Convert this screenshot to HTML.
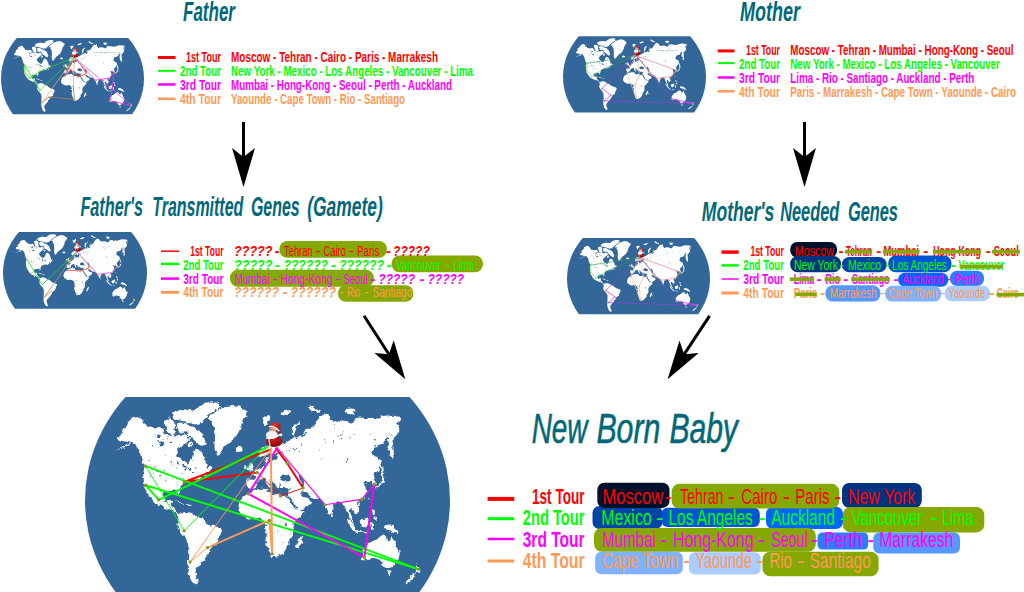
<!DOCTYPE html><html><head><meta charset="utf-8"><title>Genetic crossover of tours</title>
<style>html,body{margin:0;padding:0;background:#fff;overflow:hidden}svg{display:block}text{font-family:"Liberation Sans",sans-serif}</style></head><body>
<svg width="1024" height="592" viewBox="0 0 1024 592">
<defs><clipPath id="mapclip"><rect x="0" y="397.0" width="600" height="194.6"/></clipPath><clipPath id="bigclip"><rect x="0" y="397.0" width="600" height="220"/></clipPath><clipPath id="ell"><ellipse cx="267.5" cy="500.6" rx="182.5" ry="165.0"/></clipPath><radialGradient id="sg" cx="0.45" cy="0.3" r="0.75"><stop offset="0" stop-color="#cf1f1c"/><stop offset="0.6" stop-color="#a51212"/><stop offset="1" stop-color="#6e0808"/></radialGradient>
<radialGradient id="hg" cx="0.4" cy="0.3" r="0.8"><stop offset="0" stop-color="#e23a2c"/><stop offset="1" stop-color="#9c1010"/></radialGradient>
<g id="santa">
<ellipse cx="7" cy="-2" rx="6" ry="2.6" fill="#fff" fill-opacity="0.75"/>
<ellipse cx="2.1" cy="-5.6" rx="8.2" ry="5.5" fill="url(#sg)"/>
<path d="M-3.2,-8.5 L-2.2,-1.2" stroke="#f3f3f3" stroke-width="1.3" fill="none"/>
<ellipse cx="3.3" cy="-20.2" rx="5.3" ry="4.6" fill="url(#hg)"/>
<path d="M6.5,-19 Q9.5,-16 8.6,-12.5 L6,-14 Z" fill="#a81414"/>
<ellipse cx="0.8" cy="-17" rx="3.6" ry="2.3" fill="#efb58f"/>
<path d="M-2.6,-20.2 Q2,-21.5 6.8,-16.2" stroke="#fafafa" stroke-width="1.5" fill="none" stroke-linecap="round"/>
<ellipse cx="-0.3" cy="-12" rx="5.9" ry="3.9" fill="#f6f6f6"/>
<path d="M-5.5,-9 Q1,-7.5 8,-12.5" stroke="#fff" stroke-width="1.4" fill="none" stroke-linecap="round"/>
<ellipse cx="-1" cy="-15.3" rx="2.6" ry="0.9" fill="#e8e8e8"/>
<circle cx="-1.2" cy="-17.4" r="0.55" fill="#402018"/><circle cx="1.3" cy="-17.2" r="0.55" fill="#402018"/>
<circle cx="8.8" cy="-12.2" r="1.4" fill="#fff"/>
</g><filter id="rough" x="-2%" y="-2%" width="104%" height="104%"><feTurbulence type="fractalNoise" baseFrequency="0.22" numOctaves="2" seed="7" result="n"/><feDisplacementMap in="SourceGraphic" in2="n" scale="5" xChannelSelector="R" yChannelSelector="G"/></filter><g id="worldin"><ellipse cx="267.5" cy="500.6" rx="182.5" ry="165.0" fill="#336699"/><g clip-path="url(#ell)"><g filter="url(#rough)"><path d="M130.6,442.4 L125.0,441.5 L119.4,440.5 L117.5,438.0 L120.6,435.2 L123.1,433.0 L121.5,430.2 L123.1,427.4 L126.9,426.1 L128.5,421.8 L131.5,418.6 L138.1,417.0 L141.9,419.2 L143.8,423.0 L148.1,425.8 L151.9,428.2 L156.2,427.5 L160.0,427.0 L163.1,429.9 L165.0,434.2 L170.0,436.1 L175.0,435.2 L180.0,436.1 L185.0,434.2 L188.1,435.5 L190.0,439.2 L187.5,441.8 L183.8,444.2 L180.0,447.4 L176.5,451.5 L177.5,455.8 L181.2,459.5 L185.2,462.0 L187.5,463.6 L189.0,460.5 L191.9,458.0 L192.8,453.0 L195.0,449.9 L198.8,449.9 L201.9,453.0 L204.4,458.0 L206.2,463.0 L207.0,468.0 L205.6,472.0 L207.5,474.5 L201.9,476.8 L200.0,478.6 L192.5,479.4 L186.9,480.5 L184.2,482.0 L184.1,481.2 L181.6,485.0 L180.0,488.8 L179.8,494.0 L178.2,494.8 L177.2,490.2 L173.5,490.2 L168.5,490.9 L164.5,492.1 L162.9,494.0 L163.0,497.5 L166.0,500.6 L169.5,500.0 L172.5,501.2 L170.6,504.0 L172.5,506.9 L176.0,510.6 L179.1,515.6 L177.9,516.5 L176.0,512.8 L173.5,510.2 L169.8,509.5 L164.8,508.2 L159.1,505.2 L154.8,502.8 L151.0,497.8 L148.2,492.2 L144.8,486.2 L143.5,483.1 L143.8,480.1 L143.0,472.6 L144.9,466.1 L143.1,463.0 L141.2,458.0 L140.0,453.0 L138.5,448.0 L135.0,444.0Z M130.6,442.0 L125.0,445.9 L120.0,448.6 L115.0,450.5 L120.0,449.2 L125.6,446.8 L131.2,443.0Z M145.0,486.0 L148.5,492.2 L152.0,497.8 L151.2,498.8 L147.9,493.5 L144.2,487.5Z M163.8,422.4 L168.1,418.6 L172.5,419.9 L175.4,424.0 L174.4,429.2 L176.5,433.0 L172.8,435.5 L168.1,433.9 L166.2,429.5 L164.8,425.8Z M172.2,413.2 L177.5,410.5 L185.0,409.2 L190.0,409.9 L195.0,410.5 L196.9,408.0 L202.5,404.2 L210.0,402.4 L216.2,402.4 L220.2,404.9 L218.8,408.6 L212.5,412.0 L207.8,415.8 L202.8,420.8 L199.0,423.2 L193.8,424.5 L187.5,422.0 L181.2,420.8 L175.0,419.5 L172.5,416.4Z M177.5,423.0 L182.5,422.4 L187.5,423.6 L190.0,426.8 L187.5,430.8 L183.1,433.0 L178.8,431.5 L176.9,427.4Z M186.2,427.8 L191.2,426.1 L196.5,428.0 L201.5,433.0 L204.0,438.0 L206.0,443.2 L202.8,447.0 L198.8,444.5 L195.0,440.8 L191.9,439.2 L189.4,435.5 L187.5,432.4Z M187.5,442.8 L190.6,441.8 L193.1,444.0 L191.2,446.5 L188.1,445.8Z M206.5,468.0 L210.0,466.5 L211.9,469.2 L209.8,472.0 L206.9,471.8Z M207.5,419.2 L210.6,415.5 L215.0,412.4 L221.2,408.6 L227.5,406.1 L233.8,404.9 L240.0,406.8 L245.0,410.5 L247.5,413.6 L245.6,416.8 L242.5,420.5 L241.2,424.9 L240.0,429.2 L237.5,434.2 L235.0,438.0 L231.2,441.1 L226.2,444.9 L222.5,449.2 L219.4,454.2 L216.9,454.9 L215.0,450.5 L214.4,445.5 L215.0,439.2 L214.4,433.0 L213.8,426.8 L210.6,423.0Z M235.6,448.0 L238.8,446.5 L243.1,447.4 L243.5,449.9 L240.0,451.8 L236.5,450.5Z M261.2,418.6 L265.0,416.5 L270.0,416.8 L270.0,419.9 L266.9,422.4 L265.0,426.1 L263.1,423.0Z M280.0,413.0 L285.0,411.1 L290.0,409.9 L291.2,411.8 L287.5,414.2 L282.5,415.5Z M291.9,429.2 L293.1,425.5 L296.9,422.4 L300.0,421.1 L298.8,424.2 L296.2,427.4 L294.8,433.0 L293.8,436.8 L291.9,434.9Z M308.1,406.1 L310.6,405.5 L315.6,409.2 L320.0,410.5 L318.8,412.8 L313.8,411.1 L309.4,409.2Z M345.6,409.9 L350.0,408.6 L355.0,409.0 L356.9,410.5 L352.5,412.4 L355.0,414.9 L352.5,415.5 L347.5,413.0Z M175.4,500.6 L179.8,501.2 L184.1,503.8 L183.5,504.5 L179.1,502.6 L175.4,501.6Z M186.0,504.4 L190.4,504.8 L190.6,505.9 L186.2,505.8Z M177.9,516.2 L181.0,513.1 L186.0,511.9 L191.0,512.8 L194.8,515.0 L198.5,517.5 L203.5,518.8 L206.0,521.9 L211.0,525.0 L217.2,526.9 L221.6,529.4 L222.0,532.5 L219.8,536.2 L217.9,541.2 L216.0,545.0 L212.2,546.9 L209.8,550.0 L208.5,554.0 L202.8,561.6 L199.1,565.4 L196.2,569.1 L195.3,573.8 L197.2,578.5 L199.1,584.1 L195.3,585.1 L191.6,581.3 L188.8,574.8 L187.8,567.2 L188.0,561.6 L188.2,554.0 L188.5,547.5 L187.9,542.5 L185.4,537.5 L181.6,533.8 L178.5,529.4 L177.2,525.0 L179.1,520.0Z M248.0,494.1 L253.0,490.0 L260.5,488.8 L266.8,489.1 L268.2,492.5 L273.6,494.5 L277.4,492.9 L281.1,496.0 L286.1,495.8 L287.8,495.5 L286.8,495.2 L288.0,497.8 L290.5,502.1 L293.6,507.1 L296.1,510.2 L299.2,511.5 L304.2,510.9 L303.0,512.8 L299.9,517.1 L295.5,521.5 L292.4,526.5 L293.0,530.9 L293.0,535.2 L290.5,539.6 L288.0,541.5 L288.6,543.4 L286.8,547.8 L283.6,552.8 L279.2,555.9 L274.2,557.1 L271.1,557.1 L269.9,552.8 L267.4,546.5 L265.5,540.9 L265.5,536.5 L266.8,530.2 L265.5,525.2 L264.2,520.9 L260.5,519.0 L255.5,517.8 L249.2,518.4 L244.2,515.9 L239.9,512.8 L238.0,507.8 L239.2,502.8 L241.8,497.8Z M296.1,545.2 L298.0,540.2 L301.1,535.9 L302.8,536.5 L301.8,541.5 L299.2,546.5 L297.4,548.0Z M250.5,489.1 L246.8,487.2 L246.5,482.2 L248.0,479.5 L254.9,479.8 L256.1,476.0 L252.4,472.9 L256.8,471.0 L260.5,469.1 L263.6,466.0 L266.1,462.9 L265.5,459.1 L267.4,457.9 L269.2,461.0 L271.1,462.2 L274.5,460.4 L277.4,461.6 L278.0,458.5 L275.5,455.4 L277.4,453.5 L281.8,453.5 L283.0,451.0 L260.0,456.8 L258.1,451.8 L261.2,447.4 L265.0,446.1 L283.1,444.9 L287.5,441.8 L293.8,438.0 L300.0,435.5 L302.5,438.0 L306.2,435.5 L307.5,430.5 L313.8,426.8 L316.2,423.0 L300.0,438.0 L303.1,435.5 L305.0,429.2 L312.5,428.0 L315.6,422.4 L320.0,416.8 L323.1,413.6 L328.8,415.5 L331.2,419.9 L337.5,421.1 L342.5,420.5 L347.5,421.8 L350.6,423.6 L353.8,421.8 L355.6,418.0 L361.2,417.4 L367.5,418.6 L375.0,419.2 L381.2,416.8 L387.5,415.5 L395.0,416.1 L400.0,416.8 L400.6,421.1 L396.9,423.6 L398.8,426.8 L399.4,431.1 L396.2,435.5 L392.5,439.2 L393.1,445.5 L393.8,450.5 L393.1,456.8 L391.9,459.2 L389.4,453.0 L387.5,446.8 L388.1,440.5 L387.5,435.5 L385.6,438.0 L383.1,443.6 L377.5,445.5 L373.8,446.8 L371.9,454.2 L375.0,456.8 L378.1,455.5 L380.6,463.0 L382.8,469.9 L381.2,472.0 L379.1,460.0 L379.8,465.0 L378.5,470.0 L374.8,473.8 L372.9,476.9 L374.8,480.0 L375.8,483.8 L374.1,485.6 L372.0,483.1 L371.0,480.6 L368.5,483.1 L365.4,480.0 L364.5,481.9 L366.0,485.6 L367.2,490.0 L365.4,493.8 L364.1,497.5 L361.6,500.2 L357.9,501.9 L356.0,503.1 L357.2,504.8 L359.8,509.4 L358.5,512.5 L356.0,513.8 L353.5,510.6 L351.6,508.1 L349.8,509.4 L350.4,513.8 L352.2,518.8 L353.5,522.5 L351.6,521.9 L349.1,516.9 L346.6,511.2 L344.1,505.6 L342.9,502.5 L341.0,501.9 L337.9,501.9 L334.8,504.4 L332.0,510.0 L331.5,516.0 L328.5,512.5 L326.6,508.1 L325.0,504.6 L322.2,501.2 L319.8,498.8 L316.0,497.5 L315.5,498.5 L310.5,496.6 L308.0,494.1 L303.0,491.2 L300.2,493.2 L303.0,496.2 L306.5,498.5 L309.2,498.5 L311.5,502.2 L308.6,505.6 L304.2,508.5 L299.2,511.0 L296.8,509.1 L293.0,501.6 L289.2,495.5 L288.0,495.4 L288.4,489.8 L293.0,487.9 L289.2,488.5 L286.8,487.9 L280.5,487.9 L279.2,483.5 L277.4,488.5 L274.9,483.5 L271.8,481.0 L269.2,478.8 L271.1,486.6 L269.2,487.5 L266.8,482.2 L264.9,478.2 L260.5,479.5 L257.4,482.2 L256.1,486.0Z M248.0,471.0 L248.6,466.6 L249.9,462.9 L252.4,462.2 L253.0,464.8 L252.4,467.2 L254.5,470.4 L251.8,471.6Z M244.2,466.6 L246.5,464.8 L247.4,467.2 L246.1,469.5 L244.2,468.8Z M382.9,470.6 L384.8,472.5 L384.1,478.8 L383.5,483.1 L379.8,485.6 L376.6,487.5 L375.8,489.4 L374.8,486.9 L378.5,484.4 L381.6,481.9 L382.2,477.5 L381.6,472.5Z M380.0,460.0 L381.6,465.0 L384.1,471.2 L382.9,471.5 L380.8,466.2 L379.5,461.2Z M369.0,498.0 L370.1,498.2 L369.9,500.8 L369.0,500.2Z M357.9,503.1 L359.8,503.4 L359.5,505.0 L358.0,504.8Z M332.0,515.6 L333.1,516.2 L332.8,517.9 L331.9,517.2Z M372.0,509.4 L374.5,510.0 L375.0,513.1 L374.2,515.6 L372.9,513.8 L372.2,511.2Z M373.2,516.2 L376.6,516.9 L377.0,519.4 L374.8,519.8 L373.2,518.1Z M346.0,518.1 L348.8,519.8 L352.2,524.0 L356.2,529.0 L359.1,531.5 L357.5,532.8 L352.5,528.5 L348.0,523.1Z M357.5,530.8 L366.0,531.8 L368.5,532.5 L368.2,533.5 L358.0,532.5Z M359.8,522.5 L364.1,518.8 L367.9,517.5 L368.8,521.2 L367.2,525.6 L364.1,527.5 L361.0,526.2Z M370.0,522.5 L372.2,521.9 L373.2,525.0 L372.2,530.0 L371.0,528.5 L370.5,525.0Z M383.1,525.8 L388.8,524.5 L393.8,527.0 L397.5,530.5 L399.8,533.8 L396.9,533.9 L392.5,531.5 L388.1,530.1 L384.0,529.0Z M362.2,555.5 L362.5,550.5 L366.2,545.5 L372.5,541.8 L378.1,537.4 L382.5,534.9 L385.6,536.8 L386.9,539.9 L390.0,540.5 L391.9,535.5 L393.8,539.2 L396.2,544.9 L398.8,549.2 L399.8,554.2 L398.1,559.2 L395.0,563.6 L391.2,567.4 L386.9,568.6 L383.8,566.8 L381.9,562.4 L380.0,559.9 L376.2,558.6 L371.2,558.0 L366.9,559.9 L363.8,560.5 L361.9,558.6Z M386.9,571.8 L390.6,571.1 L390.0,574.2 L388.1,574.9Z M416.2,563.6 L418.1,567.4 L419.4,569.9 L417.5,571.8 L415.6,573.0 L416.2,569.2Z M415.0,573.6 L416.2,574.9 L412.5,578.6 L408.8,581.8 L405.6,583.6 L404.8,581.8 L408.1,579.2 L411.9,576.1Z" fill="#fff"/><path d="M279.9,477.2 L283.0,474.5 L286.8,474.1 L289.2,476.0 L291.8,477.9 L291.1,481.0 L286.8,481.6 L283.0,481.0 L280.5,480.0Z M298.6,474.5 L301.1,474.1 L303.0,477.9 L304.2,482.2 L303.6,486.0 L301.8,486.2 L301.1,482.2 L299.5,478.5Z M270.5,453.8 L273.0,453.2 L277.4,454.8 L278.0,457.9 L276.1,459.5 L273.0,458.5 L271.1,461.0 L269.9,459.8 L271.1,456.6Z M345.8,458.2 L346.5,458.0 L348.2,460.5 L347.5,463.2 L346.8,463.0 L347.5,460.5Z M176.8,463.2 L177.9,461.9 L179.0,463.2 L177.9,464.4Z M183.0,470.7 L183.5,469.9 L184.0,470.7 L183.5,471.6Z M192.1,459.3 L193.3,458.7 L194.5,459.3 L193.3,459.8Z M169.6,442.4 L170.5,441.4 L171.5,442.4 L170.5,443.3Z M147.9,441.1 L148.6,439.9 L149.4,441.1 L148.6,442.3Z M183.6,438.7 L184.8,438.1 L185.9,438.7 L184.8,439.3Z M177.1,437.3 L177.6,436.1 L178.1,437.3 L177.6,438.5Z M156.8,441.1 L158.1,439.9 L159.3,441.1 L158.1,442.2Z M161.0,472.4 L161.9,471.3 L162.8,472.4 L161.9,473.4Z M156.8,471.5 L157.8,470.2 L158.9,471.5 L157.8,472.8Z M190.1,444.5 L190.9,443.9 L191.7,444.5 L190.9,445.2Z M154.3,434.7 L155.0,433.8 L155.7,434.7 L155.0,435.7Z M147.4,460.5 L148.2,459.7 L148.9,460.5 L148.2,461.2Z M186.5,452.2 L187.3,451.3 L188.0,452.2 L187.3,453.1Z M180.5,434.4 L181.8,433.9 L183.1,434.4 L181.8,434.9Z M183.5,467.5 L184.0,466.4 L184.5,467.5 L184.0,468.6Z M165.1,456.3 L165.6,455.8 L166.1,456.3 L165.6,456.8Z M156.0,472.1 L156.7,471.0 L157.3,472.1 L156.7,473.2Z M191.8,471.6 L192.6,470.8 L193.4,471.6 L192.6,472.3Z M172.6,464.6 L173.2,463.5 L173.8,464.6 L173.2,465.7Z M185.7,468.1 L186.3,466.9 L186.8,468.1 L186.3,469.4Z M151.4,446.3 L152.4,445.1 L153.4,446.3 L152.4,447.5Z M163.4,470.8 L164.3,470.1 L165.3,470.8 L164.3,471.6Z M162.6,439.5 L163.2,438.8 L163.8,439.5 L163.2,440.1Z M180.5,473.9 L181.1,473.3 L181.7,473.9 L181.1,474.4Z M194.5,454.4 L195.4,453.7 L196.2,454.4 L195.4,455.1Z M175.6,466.7 L176.5,465.9 L177.4,466.7 L176.5,467.5Z M150.1,470.5 L150.7,469.6 L151.2,470.5 L150.7,471.4Z M187.2,437.5 L188.2,436.2 L189.3,437.5 L188.2,438.7Z M177.7,465.1 L178.3,464.2 L178.8,465.1 L178.3,465.9Z M154.4,467.5 L155.2,466.6 L155.9,467.5 L155.2,468.3Z M194.7,467.8 L196.0,466.9 L197.2,467.8 L196.0,468.7Z M170.5,462.6 L171.4,461.9 L172.3,462.6 L171.4,463.4Z M166.6,438.2 L167.4,436.9 L168.2,438.2 L167.4,439.4Z M182.9,477.5 L183.6,477.0 L184.2,477.5 L183.6,478.1Z M152.3,473.3 L153.1,472.4 L153.9,473.3 L153.1,474.1Z M161.9,479.4 L162.6,478.7 L163.4,479.4 L162.6,480.2Z M172.7,479.1 L173.2,478.4 L173.8,479.1 L173.2,479.9Z M159.0,475.8 L159.8,475.1 L160.6,475.8 L159.8,476.6Z M159.6,481.3 L160.3,480.7 L161.0,481.3 L160.3,482.0Z M149.9,476.6 L150.4,475.8 L150.9,476.6 L150.4,477.3Z M165.5,479.8 L166.2,479.0 L166.9,479.8 L166.2,480.6Z M288.7,448.4 L289.6,447.5 L290.4,448.4 L289.6,449.3Z M288.7,451.0 L289.6,450.1 L290.5,451.0 L289.6,451.8Z M298.9,452.4 L299.6,451.7 L300.3,452.4 L299.6,453.2Z M285.7,450.9 L286.7,450.2 L287.6,450.9 L286.7,451.6Z M294.2,449.4 L295.1,448.9 L295.9,449.4 L295.1,449.9Z M295.7,447.6 L296.5,446.9 L297.3,447.6 L296.5,448.2Z M293.2,450.1 L294.0,449.2 L294.8,450.1 L294.0,450.9Z M283.8,442.1 L284.4,441.3 L285.1,442.1 L284.4,442.9Z M319.4,450.1 L320.2,449.6 L320.9,450.1 L320.2,450.5Z M343.0,432.6 L343.4,432.1 L343.8,432.6 L343.4,433.1Z M328.7,430.9 L329.2,430.5 L329.7,430.9 L329.2,431.3Z M342.0,438.5 L342.8,437.7 L343.6,438.5 L342.8,439.2Z M321.5,458.3 L321.9,457.7 L322.3,458.3 L321.9,459.0Z M325.2,439.6 L325.6,438.7 L326.1,439.6 L325.6,440.5Z M333.6,425.4 L334.4,424.9 L335.2,425.4 L334.4,425.8Z M349.4,436.9 L350.2,435.9 L350.9,436.9 L350.2,437.9Z M374.4,439.9 L375.3,439.1 L376.2,439.9 L375.3,440.7Z M333.2,429.4 L334.0,428.7 L334.7,429.4 L334.0,430.1Z M387.3,460.8 L388.1,460.2 L388.8,460.8 L388.1,461.4Z M381.7,424.0 L382.2,423.3 L382.7,424.0 L382.2,424.8Z M355.8,429.3 L356.6,428.4 L357.4,429.3 L356.6,430.3Z M334.0,440.4 L334.6,439.8 L335.1,440.4 L334.6,441.0Z M388.5,438.4 L389.5,437.5 L390.4,438.4 L389.5,439.4Z M353.8,433.9 L354.8,433.2 L355.8,433.9 L354.8,434.6Z M337.2,436.1 L338.2,435.4 L339.2,436.1 L338.2,436.8Z M325.9,442.1 L326.3,441.4 L326.8,442.1 L326.3,442.9Z M339.9,435.1 L340.8,434.2 L341.7,435.1 L340.8,436.0Z M300.7,444.2 L301.2,443.3 L301.8,444.2 L301.2,445.2Z M371.4,433.3 L371.9,432.8 L372.5,433.3 L371.9,433.8Z M390.2,435.1 L391.0,434.5 L391.7,435.1 L391.0,435.8Z M288.5,533.1 L289.3,532.6 L290.2,533.1 L289.3,533.6Z M292.1,524.0 L292.8,523.4 L293.5,524.0 L292.8,524.6Z M278.2,530.9 L278.9,530.3 L279.6,530.9 L278.9,531.5Z M291.9,532.7 L292.4,532.2 L292.8,532.7 L292.4,533.3Z M282.7,542.5 L283.7,541.8 L284.6,542.5 L283.7,543.2Z M156.9,434.9 L159.4,434.0 L161.2,436.1 L159.8,438.2 L157.5,437.4Z M158.8,443.0 L162.5,442.0 L165.0,444.0 L162.5,445.5 L159.8,445.0Z M180.0,465.5 L183.1,464.9 L186.5,466.1 L186.2,467.5 L182.5,467.0Z M184.0,467.8 L185.5,468.0 L185.2,471.8 L184.0,471.5Z M187.5,467.5 L190.0,468.0 L190.2,470.8 L188.2,470.2Z M284.5,523.4 L286.5,523.0 L287.0,525.5 L285.2,526.0Z" fill="#336699"/></g></g></g><g id="world"><g clip-path="url(#mapclip)"><use href="#worldin"/></g></g><g id="worldbig"><g clip-path="url(#bigclip)"><use href="#worldin"/></g></g></defs>
<rect width="1024" height="592" fill="#fff"/>
<g transform="translate(-32.30,-117.54) scale(0.3918)"><use href="#world"/><line x1="272.0" y1="447.0" x2="287.2" y2="463.2" stroke="#ff4040" stroke-width="2.5" stroke-opacity="0.75" stroke-linecap="round"/><line x1="287.2" y1="463.2" x2="303.1" y2="488.0" stroke="#ff3030" stroke-width="2.5" stroke-opacity="0.9" stroke-linecap="round"/><line x1="303.1" y1="488.0" x2="280.6" y2="496.0" stroke="#ff3030" stroke-width="2.5" stroke-opacity="0.9" stroke-linecap="round"/><line x1="280.6" y1="496.0" x2="257.2" y2="472.6" stroke="#ff3030" stroke-width="2.5" stroke-opacity="0.9" stroke-linecap="round"/><line x1="257.2" y1="472.6" x2="248.4" y2="493.8" stroke="#ff3030" stroke-width="2.5" stroke-opacity="0.9" stroke-linecap="round"/><line x1="248.4" y1="493.8" x2="272.0" y2="447.0" stroke="#ff4040" stroke-width="2.5" stroke-opacity="0.75" stroke-linecap="round"/><line x1="272.0" y1="447.0" x2="184.1" y2="482.0" stroke="#22dd33" stroke-width="2.5" stroke-opacity="0.75" stroke-linecap="round"/><line x1="184.1" y1="482.0" x2="158.8" y2="499.8" stroke="#22ee22" stroke-width="2.5" stroke-opacity="0.9" stroke-linecap="round"/><line x1="158.8" y1="499.8" x2="145.6" y2="485.2" stroke="#22ee22" stroke-width="2.5" stroke-opacity="0.9" stroke-linecap="round"/><line x1="145.6" y1="485.2" x2="145.6" y2="466.1" stroke="#22ee22" stroke-width="2.5" stroke-opacity="0.9" stroke-linecap="round"/><line x1="145.6" y1="466.1" x2="184.1" y2="530.7" stroke="#22ee22" stroke-width="2.5" stroke-opacity="0.9" stroke-linecap="round"/><line x1="184.1" y1="530.7" x2="272.0" y2="447.0" stroke="#22dd33" stroke-width="2.5" stroke-opacity="0.75" stroke-linecap="round"/><line x1="272.0" y1="447.0" x2="325.0" y2="504.8" stroke="#ee44ee" stroke-width="2.5" stroke-opacity="0.75" stroke-linecap="round"/><line x1="325.0" y1="504.8" x2="361.6" y2="499.4" stroke="#ee30ee" stroke-width="2.5" stroke-opacity="0.9" stroke-linecap="round"/><line x1="361.6" y1="499.4" x2="374.2" y2="484.2" stroke="#ee30ee" stroke-width="2.5" stroke-opacity="0.9" stroke-linecap="round"/><line x1="374.2" y1="484.2" x2="364.4" y2="557.5" stroke="#ee30ee" stroke-width="2.5" stroke-opacity="0.9" stroke-linecap="round"/><line x1="364.4" y1="557.5" x2="418.2" y2="569.1" stroke="#ee30ee" stroke-width="2.5" stroke-opacity="0.9" stroke-linecap="round"/><line x1="418.2" y1="569.1" x2="272.0" y2="447.0" stroke="#ee44ee" stroke-width="2.5" stroke-opacity="0.75" stroke-linecap="round"/><line x1="272.0" y1="447.0" x2="269.4" y2="520.4" stroke="#ffaa77" stroke-width="2.5" stroke-opacity="0.75" stroke-linecap="round"/><line x1="269.4" y1="520.4" x2="272.2" y2="553.8" stroke="#b07858" stroke-width="2.5" stroke-opacity="0.9" stroke-linecap="round"/><line x1="272.2" y1="553.8" x2="207.5" y2="547.6" stroke="#b07858" stroke-width="2.5" stroke-opacity="0.9" stroke-linecap="round"/><line x1="207.5" y1="547.6" x2="190.0" y2="562.0" stroke="#b07858" stroke-width="2.5" stroke-opacity="0.9" stroke-linecap="round"/><line x1="190.0" y1="562.0" x2="272.0" y2="447.0" stroke="#ffaa77" stroke-width="2.5" stroke-opacity="0.75" stroke-linecap="round"/><circle cx="287.2" cy="463.2" r="2" fill="#b5c040" fill-opacity="0.85"/><circle cx="303.1" cy="488.0" r="2" fill="#b5c040" fill-opacity="0.85"/><circle cx="280.6" cy="496.0" r="2" fill="#b5c040" fill-opacity="0.85"/><circle cx="257.2" cy="472.6" r="2" fill="#b5c040" fill-opacity="0.85"/><circle cx="248.4" cy="493.8" r="2" fill="#b5c040" fill-opacity="0.85"/><circle cx="184.1" cy="482.0" r="2" fill="#b5c040" fill-opacity="0.85"/><circle cx="158.8" cy="499.8" r="2" fill="#b5c040" fill-opacity="0.85"/><circle cx="145.6" cy="485.2" r="2" fill="#b5c040" fill-opacity="0.85"/><circle cx="145.6" cy="466.1" r="2" fill="#b5c040" fill-opacity="0.85"/><circle cx="184.1" cy="530.7" r="2" fill="#b5c040" fill-opacity="0.85"/><circle cx="325.0" cy="504.8" r="2" fill="#b5c040" fill-opacity="0.85"/><circle cx="361.6" cy="499.4" r="2" fill="#b5c040" fill-opacity="0.85"/><circle cx="374.2" cy="484.2" r="2" fill="#b5c040" fill-opacity="0.85"/><circle cx="364.4" cy="557.5" r="2" fill="#b5c040" fill-opacity="0.85"/><circle cx="418.2" cy="569.1" r="2" fill="#b5c040" fill-opacity="0.85"/><circle cx="269.4" cy="520.4" r="2" fill="#b5c040" fill-opacity="0.85"/><circle cx="272.2" cy="553.8" r="2" fill="#b5c040" fill-opacity="0.85"/><circle cx="207.5" cy="547.6" r="2" fill="#b5c040" fill-opacity="0.85"/><circle cx="190.0" cy="562.0" r="2" fill="#b5c040" fill-opacity="0.85"/><text x="322" y="434.6" font-size="6.2" fill="#6fa5a8" textLength="56" lengthAdjust="spacingAndGlyphs">status: archives</text><use href="#santa" transform="translate(272.1,447)"/></g>
<g transform="translate(529.70,-119.34) scale(0.3918)"><use href="#world"/><line x1="272.0" y1="447.0" x2="287.2" y2="463.2" stroke="#f07070" stroke-width="2.2" stroke-opacity="0.75" stroke-linecap="round"/><line x1="287.2" y1="463.2" x2="303.1" y2="488.0" stroke="#ff9a9a" stroke-width="2.2" stroke-opacity="0.9" stroke-linecap="round"/><line x1="303.1" y1="488.0" x2="325.0" y2="504.8" stroke="#ff9a9a" stroke-width="2.2" stroke-opacity="0.9" stroke-linecap="round"/><line x1="325.0" y1="504.8" x2="361.6" y2="499.4" stroke="#ff9a9a" stroke-width="2.2" stroke-opacity="0.9" stroke-linecap="round"/><line x1="361.6" y1="499.4" x2="374.2" y2="484.2" stroke="#ff9a9a" stroke-width="2.2" stroke-opacity="0.9" stroke-linecap="round"/><line x1="374.2" y1="484.2" x2="272.0" y2="447.0" stroke="#f07070" stroke-width="2.2" stroke-opacity="0.75" stroke-linecap="round"/><line x1="272.0" y1="447.0" x2="184.1" y2="482.0" stroke="#2e9a5a" stroke-width="2.2" stroke-opacity="0.75" stroke-linecap="round"/><line x1="184.1" y1="482.0" x2="158.8" y2="499.8" stroke="#66ee66" stroke-width="2.2" stroke-opacity="0.9" stroke-linecap="round"/><line x1="158.8" y1="499.8" x2="145.6" y2="485.2" stroke="#66ee66" stroke-width="2.2" stroke-opacity="0.9" stroke-linecap="round"/><line x1="145.6" y1="485.2" x2="145.6" y2="466.1" stroke="#66ee66" stroke-width="2.2" stroke-opacity="0.9" stroke-linecap="round"/><line x1="145.6" y1="466.1" x2="272.0" y2="447.0" stroke="#2e9a5a" stroke-width="2.2" stroke-opacity="0.75" stroke-linecap="round"/><line x1="272.0" y1="447.0" x2="257.2" y2="472.6" stroke="#ffc4a4" stroke-width="2.2" stroke-opacity="0.75" stroke-linecap="round"/><line x1="257.2" y1="472.6" x2="248.4" y2="493.8" stroke="#ffc4a4" stroke-width="2.2" stroke-opacity="0.9" stroke-linecap="round"/><line x1="248.4" y1="493.8" x2="272.2" y2="553.8" stroke="#ffc4a4" stroke-width="2.2" stroke-opacity="0.9" stroke-linecap="round"/><line x1="272.2" y1="553.8" x2="269.4" y2="520.4" stroke="#ffc4a4" stroke-width="2.2" stroke-opacity="0.9" stroke-linecap="round"/><line x1="269.4" y1="520.4" x2="280.6" y2="496.0" stroke="#ffc4a4" stroke-width="2.2" stroke-opacity="0.9" stroke-linecap="round"/><line x1="280.6" y1="496.0" x2="272.0" y2="447.0" stroke="#ffc4a4" stroke-width="2.2" stroke-opacity="0.75" stroke-linecap="round"/><circle cx="287.2" cy="463.2" r="2" fill="#b5c040" fill-opacity="0.85"/><circle cx="303.1" cy="488.0" r="2" fill="#b5c040" fill-opacity="0.85"/><circle cx="325.0" cy="504.8" r="2" fill="#b5c040" fill-opacity="0.85"/><circle cx="361.6" cy="499.4" r="2" fill="#b5c040" fill-opacity="0.85"/><circle cx="374.2" cy="484.2" r="2" fill="#b5c040" fill-opacity="0.85"/><circle cx="184.1" cy="482.0" r="2" fill="#b5c040" fill-opacity="0.85"/><circle cx="158.8" cy="499.8" r="2" fill="#b5c040" fill-opacity="0.85"/><circle cx="145.6" cy="485.2" r="2" fill="#b5c040" fill-opacity="0.85"/><circle cx="145.6" cy="466.1" r="2" fill="#b5c040" fill-opacity="0.85"/><circle cx="184.1" cy="530.7" r="2" fill="#b5c040" fill-opacity="0.85"/><circle cx="207.5" cy="547.6" r="2" fill="#b5c040" fill-opacity="0.85"/><circle cx="190.0" cy="562.0" r="2" fill="#b5c040" fill-opacity="0.85"/><circle cx="418.2" cy="569.1" r="2" fill="#b5c040" fill-opacity="0.85"/><circle cx="364.4" cy="557.5" r="2" fill="#b5c040" fill-opacity="0.85"/><circle cx="257.2" cy="472.6" r="2" fill="#b5c040" fill-opacity="0.85"/><circle cx="248.4" cy="493.8" r="2" fill="#b5c040" fill-opacity="0.85"/><circle cx="272.2" cy="553.8" r="2" fill="#b5c040" fill-opacity="0.85"/><circle cx="269.4" cy="520.4" r="2" fill="#b5c040" fill-opacity="0.85"/><circle cx="280.6" cy="496.0" r="2" fill="#b5c040" fill-opacity="0.85"/><line x1="272.0" y1="447.0" x2="184.1" y2="530.7" stroke="#8a44cc" stroke-width="2.2" stroke-opacity="0.8" stroke-linecap="round"/><line x1="184.1" y1="530.7" x2="207.5" y2="547.6" stroke="#ee44ee" stroke-width="2.2" stroke-opacity="1" stroke-linecap="round"/><line x1="207.5" y1="547.6" x2="190.0" y2="562.0" stroke="#ee44ee" stroke-width="2.2" stroke-opacity="1" stroke-linecap="round"/><line x1="190.0" y1="562.0" x2="418.2" y2="569.1" stroke="#8a44cc" stroke-width="2.2" stroke-opacity="0.85" stroke-linecap="round"/><line x1="418.2" y1="569.1" x2="364.4" y2="557.5" stroke="#ee44ee" stroke-width="2.4" stroke-opacity="1" stroke-linecap="round"/><line x1="364.4" y1="557.5" x2="272.0" y2="447.0" stroke="#8a44cc" stroke-width="2.2" stroke-opacity="0.8" stroke-linecap="round"/><text x="322" y="434.6" font-size="6.2" fill="#6fa5a8" textLength="56" lengthAdjust="spacingAndGlyphs">status: archives</text><use href="#santa" transform="translate(272.1,447)"/></g>
<g transform="translate(-30.53,75.38) scale(0.3945)"><use href="#world"/><line x1="303.1" y1="488.0" x2="280.6" y2="496.0" stroke="#ff6655" stroke-width="2.5" stroke-opacity="1" stroke-linecap="round"/><line x1="280.6" y1="496.0" x2="248.4" y2="493.8" stroke="#ff6655" stroke-width="2.5" stroke-opacity="1" stroke-linecap="round"/><line x1="145.6" y1="466.1" x2="184.1" y2="530.7" stroke="#33ee33" stroke-width="2.5" stroke-opacity="0.9" stroke-linecap="round"/><line x1="184.1" y1="530.7" x2="272.0" y2="447.0" stroke="#22cc44" stroke-width="2.5" stroke-opacity="0.9" stroke-linecap="round"/><line x1="272.0" y1="447.0" x2="325.0" y2="504.8" stroke="#ee44ee" stroke-width="2.5" stroke-opacity="0.9" stroke-linecap="round"/><line x1="325.0" y1="504.8" x2="361.6" y2="499.4" stroke="#ee55ee" stroke-width="2.5" stroke-opacity="0.9" stroke-linecap="round"/><line x1="361.6" y1="499.4" x2="374.2" y2="484.2" stroke="#ee55ee" stroke-width="2.5" stroke-opacity="0.9" stroke-linecap="round"/><line x1="207.5" y1="547.6" x2="190.0" y2="562.0" stroke="#ff9955" stroke-width="2.5" stroke-opacity="0.9" stroke-linecap="round"/><line x1="190.0" y1="562.0" x2="272.0" y2="447.0" stroke="#c89070" stroke-width="2.5" stroke-opacity="0.9" stroke-linecap="round"/><circle cx="287.2" cy="463.2" r="2" fill="#b5c040" fill-opacity="0.85"/><circle cx="303.1" cy="488.0" r="2" fill="#b5c040" fill-opacity="0.85"/><circle cx="280.6" cy="496.0" r="2" fill="#b5c040" fill-opacity="0.85"/><circle cx="257.2" cy="472.6" r="2" fill="#b5c040" fill-opacity="0.85"/><circle cx="248.4" cy="493.8" r="2" fill="#b5c040" fill-opacity="0.85"/><circle cx="184.1" cy="482.0" r="2" fill="#b5c040" fill-opacity="0.85"/><circle cx="158.8" cy="499.8" r="2" fill="#b5c040" fill-opacity="0.85"/><circle cx="145.6" cy="485.2" r="2" fill="#b5c040" fill-opacity="0.85"/><circle cx="145.6" cy="466.1" r="2" fill="#b5c040" fill-opacity="0.85"/><circle cx="184.1" cy="530.7" r="2" fill="#b5c040" fill-opacity="0.85"/><circle cx="325.0" cy="504.8" r="2" fill="#b5c040" fill-opacity="0.85"/><circle cx="361.6" cy="499.4" r="2" fill="#b5c040" fill-opacity="0.85"/><circle cx="374.2" cy="484.2" r="2" fill="#b5c040" fill-opacity="0.85"/><circle cx="364.4" cy="557.5" r="2" fill="#b5c040" fill-opacity="0.85"/><circle cx="418.2" cy="569.1" r="2" fill="#b5c040" fill-opacity="0.85"/><circle cx="269.4" cy="520.4" r="2" fill="#b5c040" fill-opacity="0.85"/><circle cx="272.2" cy="553.8" r="2" fill="#b5c040" fill-opacity="0.85"/><circle cx="207.5" cy="547.6" r="2" fill="#b5c040" fill-opacity="0.85"/><circle cx="190.0" cy="562.0" r="2" fill="#b5c040" fill-opacity="0.85"/><use href="#santa" transform="translate(272.1,447)"/></g>
<g transform="translate(533.70,82.46) scale(0.3918)"><use href="#world"/><line x1="272.0" y1="447.0" x2="287.2" y2="463.2" stroke="#f07070" stroke-width="2.2" stroke-opacity="0.75" stroke-linecap="round"/><line x1="287.2" y1="463.2" x2="303.1" y2="488.0" stroke="#ff9a9a" stroke-width="2.2" stroke-opacity="0.9" stroke-linecap="round"/><line x1="303.1" y1="488.0" x2="325.0" y2="504.8" stroke="#ff9a9a" stroke-width="2.2" stroke-opacity="0.9" stroke-linecap="round"/><line x1="325.0" y1="504.8" x2="361.6" y2="499.4" stroke="#ff9a9a" stroke-width="2.2" stroke-opacity="0.9" stroke-linecap="round"/><line x1="361.6" y1="499.4" x2="374.2" y2="484.2" stroke="#ff9a9a" stroke-width="2.2" stroke-opacity="0.9" stroke-linecap="round"/><line x1="374.2" y1="484.2" x2="272.0" y2="447.0" stroke="#f07070" stroke-width="2.2" stroke-opacity="0.75" stroke-linecap="round"/><line x1="272.0" y1="447.0" x2="184.1" y2="482.0" stroke="#2e9a5a" stroke-width="2.2" stroke-opacity="0.75" stroke-linecap="round"/><line x1="184.1" y1="482.0" x2="158.8" y2="499.8" stroke="#66ee66" stroke-width="2.2" stroke-opacity="0.9" stroke-linecap="round"/><line x1="158.8" y1="499.8" x2="145.6" y2="485.2" stroke="#66ee66" stroke-width="2.2" stroke-opacity="0.9" stroke-linecap="round"/><line x1="145.6" y1="485.2" x2="145.6" y2="466.1" stroke="#66ee66" stroke-width="2.2" stroke-opacity="0.9" stroke-linecap="round"/><line x1="145.6" y1="466.1" x2="272.0" y2="447.0" stroke="#2e9a5a" stroke-width="2.2" stroke-opacity="0.75" stroke-linecap="round"/><line x1="272.0" y1="447.0" x2="257.2" y2="472.6" stroke="#ffc4a4" stroke-width="2.2" stroke-opacity="0.75" stroke-linecap="round"/><line x1="257.2" y1="472.6" x2="248.4" y2="493.8" stroke="#ffc4a4" stroke-width="2.2" stroke-opacity="0.9" stroke-linecap="round"/><line x1="248.4" y1="493.8" x2="272.2" y2="553.8" stroke="#ffc4a4" stroke-width="2.2" stroke-opacity="0.9" stroke-linecap="round"/><line x1="272.2" y1="553.8" x2="269.4" y2="520.4" stroke="#ffc4a4" stroke-width="2.2" stroke-opacity="0.9" stroke-linecap="round"/><line x1="269.4" y1="520.4" x2="280.6" y2="496.0" stroke="#ffc4a4" stroke-width="2.2" stroke-opacity="0.9" stroke-linecap="round"/><line x1="280.6" y1="496.0" x2="272.0" y2="447.0" stroke="#ffc4a4" stroke-width="2.2" stroke-opacity="0.75" stroke-linecap="round"/><circle cx="287.2" cy="463.2" r="2" fill="#b5c040" fill-opacity="0.85"/><circle cx="303.1" cy="488.0" r="2" fill="#b5c040" fill-opacity="0.85"/><circle cx="325.0" cy="504.8" r="2" fill="#b5c040" fill-opacity="0.85"/><circle cx="361.6" cy="499.4" r="2" fill="#b5c040" fill-opacity="0.85"/><circle cx="374.2" cy="484.2" r="2" fill="#b5c040" fill-opacity="0.85"/><circle cx="184.1" cy="482.0" r="2" fill="#b5c040" fill-opacity="0.85"/><circle cx="158.8" cy="499.8" r="2" fill="#b5c040" fill-opacity="0.85"/><circle cx="145.6" cy="485.2" r="2" fill="#b5c040" fill-opacity="0.85"/><circle cx="145.6" cy="466.1" r="2" fill="#b5c040" fill-opacity="0.85"/><circle cx="184.1" cy="530.7" r="2" fill="#b5c040" fill-opacity="0.85"/><circle cx="207.5" cy="547.6" r="2" fill="#b5c040" fill-opacity="0.85"/><circle cx="190.0" cy="562.0" r="2" fill="#b5c040" fill-opacity="0.85"/><circle cx="418.2" cy="569.1" r="2" fill="#b5c040" fill-opacity="0.85"/><circle cx="364.4" cy="557.5" r="2" fill="#b5c040" fill-opacity="0.85"/><circle cx="257.2" cy="472.6" r="2" fill="#b5c040" fill-opacity="0.85"/><circle cx="248.4" cy="493.8" r="2" fill="#b5c040" fill-opacity="0.85"/><circle cx="272.2" cy="553.8" r="2" fill="#b5c040" fill-opacity="0.85"/><circle cx="269.4" cy="520.4" r="2" fill="#b5c040" fill-opacity="0.85"/><circle cx="280.6" cy="496.0" r="2" fill="#b5c040" fill-opacity="0.85"/><line x1="272.0" y1="447.0" x2="184.1" y2="530.7" stroke="#8a44cc" stroke-width="2.2" stroke-opacity="0.8" stroke-linecap="round"/><line x1="184.1" y1="530.7" x2="207.5" y2="547.6" stroke="#ee44ee" stroke-width="2.2" stroke-opacity="1" stroke-linecap="round"/><line x1="207.5" y1="547.6" x2="190.0" y2="562.0" stroke="#ee44ee" stroke-width="2.2" stroke-opacity="1" stroke-linecap="round"/><line x1="190.0" y1="562.0" x2="418.2" y2="569.1" stroke="#8a44cc" stroke-width="2.2" stroke-opacity="0.85" stroke-linecap="round"/><line x1="418.2" y1="569.1" x2="364.4" y2="557.5" stroke="#ee44ee" stroke-width="2.4" stroke-opacity="1" stroke-linecap="round"/><line x1="364.4" y1="557.5" x2="272.0" y2="447.0" stroke="#8a44cc" stroke-width="2.2" stroke-opacity="0.8" stroke-linecap="round"/><use href="#santa" transform="translate(272.1,447)"/></g>
<use href="#worldbig"/>
<line x1="276.0" y1="448.5" x2="287.2" y2="463.2" stroke="#ff0000" stroke-width="1.95" stroke-opacity="1" stroke-linecap="round"/><line x1="287.2" y1="463.2" x2="303.1" y2="488.0" stroke="#ff0000" stroke-width="1.95" stroke-opacity="1" stroke-linecap="round"/><line x1="303.1" y1="488.0" x2="280.6" y2="496.0" stroke="#ff0000" stroke-width="0.95" stroke-opacity="1" stroke-linecap="round"/><line x1="280.6" y1="496.0" x2="257.2" y2="472.6" stroke="#ff0000" stroke-width="0.95" stroke-opacity="1" stroke-linecap="round"/><line x1="257.2" y1="472.6" x2="184.1" y2="482.0" stroke="#ff0000" stroke-width="1.95" stroke-opacity="1" stroke-linecap="round"/><line x1="184.1" y1="482.0" x2="270.5" y2="449.5" stroke="#ff0000" stroke-width="1.95" stroke-opacity="1" stroke-linecap="round"/><line x1="267.5" y1="446.8" x2="158.8" y2="499.8" stroke="#00ff00" stroke-width="1.95" stroke-opacity="1" stroke-linecap="round"/><line x1="158.8" y1="499.8" x2="145.6" y2="485.2" stroke="#00ff00" stroke-width="1.95" stroke-opacity="1" stroke-linecap="round"/><line x1="145.6" y1="485.2" x2="418.2" y2="569.1" stroke="#00ff00" stroke-width="1.95" stroke-opacity="1" stroke-linecap="round"/><line x1="418.2" y1="569.1" x2="145.6" y2="466.1" stroke="#00ff00" stroke-width="1.95" stroke-opacity="1" stroke-linecap="round"/><line x1="145.6" y1="466.1" x2="184.1" y2="530.7" stroke="#00ff00" stroke-width="0.95" stroke-opacity="1" stroke-linecap="round"/><line x1="184.1" y1="530.7" x2="267.5" y2="446.8" stroke="#00ff00" stroke-width="0.95" stroke-opacity="1" stroke-linecap="round"/><line x1="277.2" y1="447.8" x2="325.0" y2="504.8" stroke="#ff00ff" stroke-width="1.15" stroke-opacity="1" stroke-linecap="round"/><line x1="325.0" y1="504.8" x2="361.6" y2="499.4" stroke="#ff00ff" stroke-width="1.15" stroke-opacity="1" stroke-linecap="round"/><line x1="361.6" y1="499.4" x2="374.2" y2="484.2" stroke="#ff00ff" stroke-width="1.15" stroke-opacity="1" stroke-linecap="round"/><line x1="374.2" y1="484.2" x2="364.4" y2="557.5" stroke="#ff00ff" stroke-width="1.95" stroke-opacity="1" stroke-linecap="round"/><line x1="364.4" y1="557.5" x2="248.4" y2="493.8" stroke="#ff00ff" stroke-width="1.95" stroke-opacity="1" stroke-linecap="round"/><line x1="248.4" y1="493.8" x2="277.2" y2="447.8" stroke="#ff00ff" stroke-width="1.95" stroke-opacity="1" stroke-linecap="round"/><line x1="270.8" y1="448.2" x2="272.2" y2="553.8" stroke="#ff9955" stroke-width="1.95" stroke-opacity="1" stroke-linecap="round"/><line x1="272.2" y1="553.8" x2="269.4" y2="520.4" stroke="#ff9955" stroke-width="1.95" stroke-opacity="1" stroke-linecap="round"/><line x1="269.4" y1="520.4" x2="207.5" y2="547.6" stroke="#ff9955" stroke-width="1.95" stroke-opacity="1" stroke-linecap="round"/><line x1="207.5" y1="547.6" x2="190.0" y2="562.0" stroke="#ff9955" stroke-width="0.95" stroke-opacity="1" stroke-linecap="round"/><line x1="190.0" y1="562.0" x2="269.9" y2="449.5" stroke="#ff9955" stroke-width="0.95" stroke-opacity="1" stroke-linecap="round"/>
<circle cx="287.2" cy="463.2" r="1.65" fill="#8a9a1a"/><circle cx="303.1" cy="488.0" r="1.65" fill="#8a9a1a"/><circle cx="280.6" cy="496.0" r="1.65" fill="#8a9a1a"/><circle cx="257.2" cy="472.6" r="1.65" fill="#8a9a1a"/><circle cx="248.4" cy="493.8" r="1.65" fill="#8a9a1a"/><circle cx="184.1" cy="482.0" r="1.65" fill="#8a9a1a"/><circle cx="158.8" cy="499.8" r="1.65" fill="#8a9a1a"/><circle cx="145.6" cy="485.2" r="1.65" fill="#8a9a1a"/><circle cx="145.6" cy="466.1" r="1.65" fill="#8a9a1a"/><circle cx="184.1" cy="530.7" r="1.65" fill="#8a9a1a"/><circle cx="325.0" cy="504.8" r="1.65" fill="#8a9a1a"/><circle cx="361.6" cy="499.4" r="1.65" fill="#8a9a1a"/><circle cx="374.2" cy="484.2" r="1.65" fill="#8a9a1a"/><circle cx="364.4" cy="557.5" r="1.65" fill="#8a9a1a"/><circle cx="418.2" cy="569.1" r="1.65" fill="#8a9a1a"/><circle cx="269.4" cy="520.4" r="1.65" fill="#8a9a1a"/><circle cx="272.2" cy="553.8" r="1.65" fill="#8a9a1a"/><circle cx="207.5" cy="547.6" r="1.65" fill="#8a9a1a"/><circle cx="190.0" cy="562.0" r="1.65" fill="#8a9a1a"/>
<use href="#santa" transform="translate(272.1,447)"/>
<text x="183.0" y="20.5" font-size="28.5" fill="#01687a" font-weight="bold" font-style="italic" text-anchor="start" textLength="52.0" lengthAdjust="spacingAndGlyphs">Father</text>
<text x="740.0" y="20.5" font-size="28.5" fill="#01687a" font-weight="bold" font-style="italic" text-anchor="start" textLength="60.0" lengthAdjust="spacingAndGlyphs">Mother</text>
<text x="80.4" y="216.2" font-size="28.5" fill="#01687a" font-weight="bold" font-style="italic" text-anchor="start" textLength="62.6" lengthAdjust="spacingAndGlyphs">Father's</text><text x="152.3" y="216.2" font-size="28.5" fill="#01687a" font-weight="bold" font-style="italic" text-anchor="start" textLength="91.0" lengthAdjust="spacingAndGlyphs">Transmitted</text><text x="250.9" y="216.2" font-size="28.5" fill="#01687a" font-weight="bold" font-style="italic" text-anchor="start" textLength="48.8" lengthAdjust="spacingAndGlyphs">Genes</text><text x="307.3" y="216.2" font-size="28.5" fill="#01687a" font-weight="bold" font-style="italic" text-anchor="start" textLength="75.4" lengthAdjust="spacingAndGlyphs">(Gamete)</text>
<text x="701.8" y="221.3" font-size="28.5" fill="#01687a" font-weight="bold" font-style="italic" text-anchor="start" textLength="72.4" lengthAdjust="spacingAndGlyphs">Mother's</text><text x="780.2" y="221.3" font-size="28.5" fill="#01687a" font-weight="bold" font-style="italic" text-anchor="start" textLength="59.1" lengthAdjust="spacingAndGlyphs">Needed</text><text x="847.9" y="221.3" font-size="28.5" fill="#01687a" font-weight="bold" font-style="italic" text-anchor="start" textLength="50.1" lengthAdjust="spacingAndGlyphs">Genes</text>
<text x="531.7" y="442.7" font-size="43" fill="#01687a" font-weight="normal" font-style="italic" text-anchor="start" textLength="55.7" lengthAdjust="spacingAndGlyphs" stroke="#01687a" stroke-width="0.6">New</text><text x="596.4" y="442.7" font-size="43" fill="#01687a" font-weight="normal" font-style="italic" text-anchor="start" textLength="64.0" lengthAdjust="spacingAndGlyphs" stroke="#01687a" stroke-width="0.6">Born</text><text x="669.4" y="442.7" font-size="43" fill="#01687a" font-weight="normal" font-style="italic" text-anchor="start" textLength="68.5" lengthAdjust="spacingAndGlyphs" stroke="#01687a" stroke-width="0.6">Baby</text>
<line x1="243.5" y1="122.0" x2="243.5" y2="157.0" stroke="#000" stroke-width="3"/><path d="M243.5,187.0 L232.0,148.0 L243.5,157.0 L255.0,148.0 Z" fill="#000"/>
<line x1="804.5" y1="122.0" x2="804.5" y2="157.0" stroke="#000" stroke-width="3"/><path d="M804.5,187.0 L793.0,148.0 L804.5,157.0 L816.0,148.0 Z" fill="#000"/>
<line x1="364.0" y1="315.8" x2="388.9" y2="354.2" stroke="#000" stroke-width="3"/><path d="M405.3,379.3 L374.4,352.9 L388.9,354.2 L393.7,340.3 Z" fill="#000"/>
<line x1="709.6" y1="315.8" x2="684.1" y2="354.3" stroke="#000" stroke-width="3"/><path d="M667.6,379.3 L679.5,340.4 L684.1,354.3 L698.7,353.1 Z" fill="#000"/>
<line x1="158.0" y1="57.5" x2="175.5" y2="57.5" stroke="#ff0000" stroke-width="3"/><text x="186.0" y="62.0" font-size="15.2" fill="#ff0000" font-weight="bold" font-style="normal" text-anchor="start" textLength="35.0" lengthAdjust="spacingAndGlyphs">1st Tour</text><line x1="158.0" y1="70.8" x2="175.5" y2="70.8" stroke="#00ff00" stroke-width="2"/><text x="180.0" y="75.9" font-size="15.2" fill="#00ff00" font-weight="bold" font-style="normal" text-anchor="start" textLength="41.0" lengthAdjust="spacingAndGlyphs">2nd Tour</text><line x1="158.0" y1="84.5" x2="175.5" y2="84.5" stroke="#ff00ff" stroke-width="2.5"/><text x="180.0" y="89.8" font-size="15.2" fill="#ff00ff" font-weight="bold" font-style="normal" text-anchor="start" textLength="41.0" lengthAdjust="spacingAndGlyphs">3rd Tour</text><line x1="158.0" y1="98.8" x2="175.5" y2="98.8" stroke="#ff9955" stroke-width="2.5"/><text x="180.0" y="103.7" font-size="15.2" fill="#ff9955" font-weight="bold" font-style="normal" text-anchor="start" textLength="41.0" lengthAdjust="spacingAndGlyphs">4th Tour</text>
<text x="231.0" y="62.0" font-size="15.2" fill="#ff0000" font-weight="bold" font-style="normal" text-anchor="start" textLength="207.0" lengthAdjust="spacingAndGlyphs">Moscow - Tehran - Cairo - Paris - Marrakesh</text>
<text x="231.0" y="75.9" font-size="15.2" fill="#00ff00" font-weight="bold" font-style="normal" text-anchor="start" textLength="242.0" lengthAdjust="spacingAndGlyphs">New York - Mexico - Los Angeles - Vancouver - Lima</text>
<text x="231.0" y="89.8" font-size="15.2" fill="#ff00ff" font-weight="bold" font-style="normal" text-anchor="start" textLength="221.0" lengthAdjust="spacingAndGlyphs">Mumbai - Hong-Kong - Seoul - Perth - Auckland</text>
<text x="231.0" y="103.7" font-size="15.2" fill="#ff9955" font-weight="bold" font-style="normal" text-anchor="start" textLength="174.0" lengthAdjust="spacingAndGlyphs">Yaounde - Cape Town - Rio - Santiago</text>
<line x1="717.7" y1="50.9" x2="734.5" y2="50.9" stroke="#ff0000" stroke-width="3"/><text x="746.0" y="55.3" font-size="15.2" fill="#ff0000" font-weight="bold" font-style="normal" text-anchor="start" textLength="34.0" lengthAdjust="spacingAndGlyphs">1st Tour</text><line x1="717.7" y1="63.1" x2="734.5" y2="63.1" stroke="#00ff00" stroke-width="2"/><text x="739.0" y="69.2" font-size="15.2" fill="#00ff00" font-weight="bold" font-style="normal" text-anchor="start" textLength="41.0" lengthAdjust="spacingAndGlyphs">2nd Tour</text><line x1="717.7" y1="77.5" x2="734.5" y2="77.5" stroke="#ff00ff" stroke-width="2.5"/><text x="739.0" y="83.0" font-size="15.2" fill="#ff00ff" font-weight="bold" font-style="normal" text-anchor="start" textLength="41.0" lengthAdjust="spacingAndGlyphs">3rd Tour</text><line x1="717.7" y1="91.3" x2="734.5" y2="91.3" stroke="#ff9955" stroke-width="2.5"/><text x="739.0" y="96.9" font-size="15.2" fill="#ff9955" font-weight="bold" font-style="normal" text-anchor="start" textLength="41.0" lengthAdjust="spacingAndGlyphs">4th Tour</text>
<text x="790.3" y="55.3" font-size="15.2" fill="#ff0000" font-weight="bold" font-style="normal" text-anchor="start" textLength="223.3" lengthAdjust="spacingAndGlyphs">Moscow - Tehran - Mumbai - Hong-Kong - Seoul</text>
<text x="790.3" y="69.2" font-size="15.2" fill="#00ff00" font-weight="bold" font-style="normal" text-anchor="start" textLength="209.5" lengthAdjust="spacingAndGlyphs">New York - Mexico - Los Angeles - Vancouver</text>
<text x="790.3" y="83.0" font-size="15.2" fill="#ff00ff" font-weight="bold" font-style="normal" text-anchor="start" textLength="184.0" lengthAdjust="spacingAndGlyphs">Lima - Rio - Santiago - Auckland - Perth</text>
<text x="790.3" y="96.9" font-size="15.2" fill="#ff9955" font-weight="bold" font-style="normal" text-anchor="start" textLength="225.7" lengthAdjust="spacingAndGlyphs">Paris - Marrakesh - Cape Town - Yaounde - Cairo</text>
<line x1="161.0" y1="251.2" x2="179.0" y2="251.2" stroke="#ff0000" stroke-width="1.5"/><text x="190.3" y="256.0" font-size="15.2" fill="#ff0000" font-weight="bold" font-style="normal" text-anchor="start" textLength="33.2" lengthAdjust="spacingAndGlyphs">1st Tour</text><line x1="161.0" y1="263.9" x2="179.0" y2="263.9" stroke="#00ff00" stroke-width="2.5"/><text x="183.2" y="269.8" font-size="15.2" fill="#00ff00" font-weight="bold" font-style="normal" text-anchor="start" textLength="40.3" lengthAdjust="spacingAndGlyphs">2nd Tour</text><line x1="161.0" y1="278.6" x2="179.0" y2="278.6" stroke="#ff00ff" stroke-width="2.5"/><text x="183.2" y="283.6" font-size="15.2" fill="#ff00ff" font-weight="bold" font-style="normal" text-anchor="start" textLength="40.3" lengthAdjust="spacingAndGlyphs">3rd Tour</text><line x1="161.0" y1="292.3" x2="179.0" y2="292.3" stroke="#ff9955" stroke-width="3"/><text x="183.2" y="297.4" font-size="15.2" fill="#ff9955" font-weight="bold" font-style="normal" text-anchor="start" textLength="40.3" lengthAdjust="spacingAndGlyphs">4th Tour</text>
<rect x="279.4" y="241.0" width="107.5" height="16.8" rx="8" fill="#85a802"/>
<rect x="391.6" y="255.5" width="91.4" height="16.8" rx="8" fill="#85a802"/>
<rect x="230.0" y="269.7" width="143.8" height="17.1" rx="8" fill="#85a802"/>
<rect x="338.0" y="285.2" width="75.4" height="16.6" rx="8" fill="#85a802"/>
<text x="234.0" y="256.0" font-size="15.2" fill="#ff0000" font-weight="bold" font-style="italic" text-anchor="start" textLength="38.5" lengthAdjust="spacingAndGlyphs">?????</text><text x="277.0" y="256.0" font-size="15.2" fill="#ff0000" font-weight="bold" font-style="italic" text-anchor="middle">-</text>
<text x="284.1" y="256.0" font-size="14" fill="#ff0000" font-weight="normal" font-style="normal" text-anchor="start" textLength="28.4" lengthAdjust="spacingAndGlyphs">Tehran</text><text x="318.0" y="256.0" font-size="14" fill="#ff0000" font-weight="normal" font-style="normal" text-anchor="middle">-</text><text x="323.4" y="256.0" font-size="14" fill="#ff0000" font-weight="normal" font-style="normal" text-anchor="start" textLength="22.6" lengthAdjust="spacingAndGlyphs">Cairo</text><text x="351.5" y="256.0" font-size="14" fill="#ff0000" font-weight="normal" font-style="normal" text-anchor="middle">-</text><text x="357.0" y="256.0" font-size="14" fill="#ff0000" font-weight="normal" font-style="normal" text-anchor="start" textLength="22.5" lengthAdjust="spacingAndGlyphs">Paris</text>
<text x="388.5" y="256.0" font-size="15.2" fill="#ff0000" font-weight="bold" font-style="italic" text-anchor="middle">-</text><text x="393.1" y="256.0" font-size="15.2" fill="#ff0000" font-weight="bold" font-style="italic" text-anchor="start" textLength="36.7" lengthAdjust="spacingAndGlyphs">?????</text>
<text x="234.0" y="269.8" font-size="15.2" fill="#00ff00" font-weight="bold" font-style="italic" text-anchor="start" textLength="38.5" lengthAdjust="spacingAndGlyphs">?????</text><text x="277.5" y="269.8" font-size="15.2" fill="#00ff00" font-weight="bold" font-style="italic" text-anchor="middle">-</text><text x="283.5" y="269.8" font-size="15.2" fill="#00ff00" font-weight="bold" font-style="italic" text-anchor="start" textLength="44.5" lengthAdjust="spacingAndGlyphs">??????</text><text x="333.5" y="269.8" font-size="15.2" fill="#00ff00" font-weight="bold" font-style="italic" text-anchor="middle">-</text><text x="339.0" y="269.8" font-size="15.2" fill="#00ff00" font-weight="bold" font-style="italic" text-anchor="start" textLength="45.0" lengthAdjust="spacingAndGlyphs">??????</text><text x="389.0" y="269.8" font-size="15.2" fill="#00ff00" font-weight="bold" font-style="italic" text-anchor="middle">-</text>
<text x="396.3" y="269.8" font-size="14" fill="#00ff00" font-weight="normal" font-style="normal" text-anchor="start" textLength="44.7" lengthAdjust="spacingAndGlyphs">Vancouver</text><text x="447.5" y="269.8" font-size="14" fill="#00ff00" font-weight="normal" font-style="normal" text-anchor="middle">-</text><text x="453.5" y="269.8" font-size="14" fill="#00ff00" font-weight="normal" font-style="normal" text-anchor="start" textLength="20.1" lengthAdjust="spacingAndGlyphs">Lima</text>
<text x="234.4" y="283.6" font-size="14" fill="#ff00ff" font-weight="normal" font-style="normal" text-anchor="start" textLength="35.1" lengthAdjust="spacingAndGlyphs">Mumbai</text><text x="275.0" y="283.6" font-size="14" fill="#ff00ff" font-weight="normal" font-style="normal" text-anchor="middle">-</text><text x="280.5" y="283.6" font-size="14" fill="#ff00ff" font-weight="normal" font-style="normal" text-anchor="start" textLength="52.0" lengthAdjust="spacingAndGlyphs">Hong-Kong</text><text x="338.0" y="283.6" font-size="14" fill="#ff00ff" font-weight="normal" font-style="normal" text-anchor="middle">-</text><text x="343.5" y="283.6" font-size="14" fill="#ff00ff" font-weight="normal" font-style="normal" text-anchor="start" textLength="24.0" lengthAdjust="spacingAndGlyphs">Seoul</text>
<text x="373.0" y="283.6" font-size="15.2" fill="#ff00ff" font-weight="bold" font-style="italic" text-anchor="middle">-</text><text x="378.3" y="283.6" font-size="15.2" fill="#ff00ff" font-weight="bold" font-style="italic" text-anchor="start" textLength="36.7" lengthAdjust="spacingAndGlyphs">?????</text><text x="422.0" y="283.6" font-size="15.2" fill="#ff00ff" font-weight="bold" font-style="italic" text-anchor="middle">-</text><text x="427.5" y="283.6" font-size="15.2" fill="#ff00ff" font-weight="bold" font-style="italic" text-anchor="start" textLength="36.7" lengthAdjust="spacingAndGlyphs">?????</text>
<text x="234.0" y="297.4" font-size="15.2" fill="#ff9955" font-weight="bold" font-style="italic" text-anchor="start" textLength="45.0" lengthAdjust="spacingAndGlyphs">??????</text><text x="285.0" y="297.4" font-size="15.2" fill="#ff9955" font-weight="bold" font-style="italic" text-anchor="middle">-</text><text x="290.5" y="297.4" font-size="15.2" fill="#ff9955" font-weight="bold" font-style="italic" text-anchor="start" textLength="45.5" lengthAdjust="spacingAndGlyphs">??????</text>
<text x="341.5" y="297.4" font-size="14" fill="#ff9955" font-weight="normal" font-style="normal" text-anchor="middle">-</text><text x="347.0" y="297.4" font-size="14" fill="#ff9955" font-weight="normal" font-style="normal" text-anchor="start" textLength="13.3" lengthAdjust="spacingAndGlyphs">Rio</text><text x="366.6" y="297.4" font-size="14" fill="#ff9955" font-weight="normal" font-style="normal" text-anchor="middle">-</text><text x="372.8" y="297.4" font-size="14" fill="#ff9955" font-weight="normal" font-style="normal" text-anchor="start" textLength="39.4" lengthAdjust="spacingAndGlyphs">Santiago</text>
<line x1="721.5" y1="252.1" x2="738.7" y2="252.1" stroke="#ff0000" stroke-width="3.4"/><text x="750.4" y="256.3" font-size="15.2" fill="#ff0000" font-weight="bold" font-style="normal" text-anchor="start" textLength="33.6" lengthAdjust="spacingAndGlyphs">1st Tour</text><line x1="721.5" y1="265.4" x2="738.7" y2="265.4" stroke="#00ff00" stroke-width="2.5"/><text x="743.3" y="270.3" font-size="15.2" fill="#00ff00" font-weight="bold" font-style="normal" text-anchor="start" textLength="40.7" lengthAdjust="spacingAndGlyphs">2nd Tour</text><line x1="721.5" y1="279.0" x2="738.7" y2="279.0" stroke="#ff00ff" stroke-width="1.5"/><text x="743.3" y="284.1" font-size="15.2" fill="#ff00ff" font-weight="bold" font-style="normal" text-anchor="start" textLength="40.7" lengthAdjust="spacingAndGlyphs">3rd Tour</text><line x1="721.5" y1="293.0" x2="738.7" y2="293.0" stroke="#ff9955" stroke-width="3"/><text x="743.3" y="298.0" font-size="15.2" fill="#ff9955" font-weight="bold" font-style="normal" text-anchor="start" textLength="40.7" lengthAdjust="spacingAndGlyphs">4th Tour</text>
<rect x="790.2" y="241.9" width="46.9" height="15.6" rx="7" fill="#00112b"/>
<rect x="790.2" y="256.0" width="50.8" height="16.3" rx="7.5" fill="#003380"/>
<rect x="841.8" y="257.0" width="44.9" height="15.3" rx="7.5" fill="#0044aa"/>
<rect x="888.2" y="255.5" width="63.3" height="16.8" rx="7.5" fill="#0055d4"/>
<rect x="898.0" y="272.7" width="50.4" height="14.1" rx="7" fill="#0066ff"/>
<rect x="950.0" y="270.7" width="34.0" height="15.3" rx="7" fill="#2a7fff"/>
<rect x="825.4" y="285.2" width="55.0" height="16.4" rx="7.5" fill="#5599ff"/>
<rect x="885.0" y="285.7" width="56.3" height="15.9" rx="7.5" fill="#80b3ff"/>
<rect x="944.5" y="285.7" width="45.8" height="15.6" rx="7.5" fill="#aaccff"/>
<text x="794.8" y="256.3" font-size="14.2" fill="#ff0000" font-weight="normal" font-style="normal" text-anchor="start" textLength="39.3" lengthAdjust="spacingAndGlyphs">Moscow</text>
<text x="841.0" y="256.3" font-size="15.2" fill="#ff0000" font-weight="bold" font-style="normal" text-anchor="middle">-</text><text x="846.0" y="256.3" font-size="15.2" fill="#ff0000" font-weight="bold" font-style="normal" text-anchor="start" textLength="26.0" lengthAdjust="spacingAndGlyphs">Tehran</text><text x="878.8" y="256.3" font-size="15.2" fill="#ff0000" font-weight="bold" font-style="normal" text-anchor="middle">-</text><text x="883.5" y="256.3" font-size="15.2" fill="#ff0000" font-weight="bold" font-style="normal" text-anchor="start" textLength="35.5" lengthAdjust="spacingAndGlyphs">Mumbai</text><text x="925.7" y="256.3" font-size="15.2" fill="#ff0000" font-weight="bold" font-style="normal" text-anchor="middle">-</text><text x="933.3" y="256.3" font-size="15.2" fill="#ff0000" font-weight="bold" font-style="normal" text-anchor="start" textLength="47.5" lengthAdjust="spacingAndGlyphs">Hong-Kong</text><text x="988.2" y="256.3" font-size="15.2" fill="#ff0000" font-weight="bold" font-style="normal" text-anchor="middle">-</text><text x="993.7" y="256.3" font-size="15.2" fill="#ff0000" font-weight="bold" font-style="normal" text-anchor="start" textLength="25.0" lengthAdjust="spacingAndGlyphs">Seoul</text>
<line x1="844.9" y1="251.7" x2="872.3" y2="251.7" stroke="#85a802" stroke-width="3.7"/>
<line x1="882.8" y1="251.7" x2="919.5" y2="251.7" stroke="#85a802" stroke-width="3.7"/>
<line x1="932.8" y1="251.7" x2="981.2" y2="251.7" stroke="#85a802" stroke-width="3.7"/>
<line x1="992.1" y1="251.7" x2="1019.9" y2="251.7" stroke="#85a802" stroke-width="3.7"/>
<text x="794.1" y="270.3" font-size="14.2" fill="#00ff00" font-weight="normal" font-style="normal" text-anchor="start" textLength="43.8" lengthAdjust="spacingAndGlyphs">New York</text><text x="841.6" y="270.3" font-size="14.2" fill="#00ff00" font-weight="normal" font-style="normal" text-anchor="middle">-</text><text x="848.0" y="270.3" font-size="14.2" fill="#00ff00" font-weight="normal" font-style="normal" text-anchor="start" textLength="33.0" lengthAdjust="spacingAndGlyphs">Mexico</text><text x="887.5" y="270.3" font-size="14.2" fill="#00ff00" font-weight="normal" font-style="normal" text-anchor="middle">-</text><text x="892.1" y="270.3" font-size="14.2" fill="#00ff00" font-weight="normal" font-style="normal" text-anchor="start" textLength="54.7" lengthAdjust="spacingAndGlyphs">Los Angeles</text>
<text x="953.5" y="270.3" font-size="15.2" fill="#00ff00" font-weight="bold" font-style="normal" text-anchor="middle">-</text><text x="958.5" y="270.3" font-size="15.2" fill="#00ff00" font-weight="bold" font-style="normal" text-anchor="start" textLength="46.1" lengthAdjust="spacingAndGlyphs">Vancouver</text>
<line x1="959.6" y1="266.6" x2="1002.8" y2="266.6" stroke="#85a802" stroke-width="3.7"/>
<text x="793.8" y="284.1" font-size="15.2" fill="#ff00ff" font-weight="bold" font-style="normal" text-anchor="start" textLength="20.3" lengthAdjust="spacingAndGlyphs">Lima</text><text x="819.1" y="284.1" font-size="15.2" fill="#ff00ff" font-weight="bold" font-style="normal" text-anchor="middle">-</text><text x="825.3" y="284.1" font-size="15.2" fill="#ff00ff" font-weight="bold" font-style="normal" text-anchor="start" textLength="14.7" lengthAdjust="spacingAndGlyphs">Rio</text><text x="845.7" y="284.1" font-size="15.2" fill="#ff00ff" font-weight="bold" font-style="normal" text-anchor="middle">-</text><text x="852.0" y="284.1" font-size="15.2" fill="#ff00ff" font-weight="bold" font-style="normal" text-anchor="start" textLength="37.5" lengthAdjust="spacingAndGlyphs">Santiago</text><text x="896.0" y="284.1" font-size="15.2" fill="#ff00ff" font-weight="bold" font-style="normal" text-anchor="middle">-</text>
<line x1="789.8" y1="279.2" x2="814.1" y2="279.2" stroke="#85a802" stroke-width="3.7"/>
<line x1="824.6" y1="279.2" x2="840.7" y2="279.2" stroke="#85a802" stroke-width="3.7"/>
<line x1="851.2" y1="279.2" x2="889.8" y2="279.2" stroke="#85a802" stroke-width="3.7"/>
<text x="902.3" y="284.1" font-size="14.2" fill="#ff00ff" font-weight="normal" font-style="normal" text-anchor="start" textLength="41.4" lengthAdjust="spacingAndGlyphs">Auckland</text><text x="949.3" y="284.1" font-size="14.2" fill="#ff00ff" font-weight="normal" font-style="normal" text-anchor="middle">-</text><text x="955.0" y="284.1" font-size="14.2" fill="#ff00ff" font-weight="normal" font-style="normal" text-anchor="start" textLength="24.3" lengthAdjust="spacingAndGlyphs">Perth</text>
<text x="793.8" y="298.0" font-size="15.2" fill="#ff9955" font-weight="bold" font-style="normal" text-anchor="start" textLength="23.4" lengthAdjust="spacingAndGlyphs">Paris</text><text x="822.6" y="298.0" font-size="15.2" fill="#ff9955" font-weight="bold" font-style="normal" text-anchor="middle">-</text>
<line x1="795.4" y1="294.3" x2="816.8" y2="294.3" stroke="#85a802" stroke-width="3.7"/>
<text x="829.8" y="298.0" font-size="14.2" fill="#ff9955" font-weight="normal" font-style="normal" text-anchor="start" textLength="46.7" lengthAdjust="spacingAndGlyphs">Marrakesh</text><text x="882.7" y="298.0" font-size="14.2" fill="#ff9955" font-weight="normal" font-style="normal" text-anchor="middle">-</text><text x="888.2" y="298.0" font-size="14.2" fill="#ff9955" font-weight="normal" font-style="normal" text-anchor="start" textLength="48.9" lengthAdjust="spacingAndGlyphs">Cape Town</text><text x="942.9" y="298.0" font-size="14.2" fill="#ff9955" font-weight="normal" font-style="normal" text-anchor="middle">-</text><text x="948.4" y="298.0" font-size="14.2" fill="#ff9955" font-weight="normal" font-style="normal" text-anchor="start" textLength="36.7" lengthAdjust="spacingAndGlyphs">Yaounde</text>
<text x="992.0" y="298.0" font-size="15.2" fill="#ff9955" font-weight="bold" font-style="normal" text-anchor="middle">-</text><text x="996.8" y="298.0" font-size="15.2" fill="#ff9955" font-weight="bold" font-style="normal" text-anchor="start" textLength="21.9" lengthAdjust="spacingAndGlyphs">Cairo</text>
<line x1="996.5" y1="294.6" x2="1024.0" y2="294.6" stroke="#85a802" stroke-width="3.7"/>
<line x1="487.6" y1="498.9" x2="514.3" y2="498.9" stroke="#ff0000" stroke-width="4"/><text x="532.0" y="504.0" font-size="22.5" fill="#ff0000" font-weight="bold" font-style="normal" text-anchor="start" textLength="52.6" lengthAdjust="spacingAndGlyphs">1st Tour</text><line x1="487.6" y1="518.7" x2="514.3" y2="518.7" stroke="#00ff00" stroke-width="3"/><text x="522.7" y="525.3" font-size="22.5" fill="#00ff00" font-weight="bold" font-style="normal" text-anchor="start" textLength="61.9" lengthAdjust="spacingAndGlyphs">2nd Tour</text><line x1="487.6" y1="539.0" x2="514.3" y2="539.0" stroke="#ff00ff" stroke-width="2.5"/><text x="522.7" y="546.6" font-size="22.5" fill="#ff00ff" font-weight="bold" font-style="normal" text-anchor="start" textLength="61.9" lengthAdjust="spacingAndGlyphs">3rd Tour</text><line x1="487.6" y1="561.0" x2="514.3" y2="561.0" stroke="#ff9955" stroke-width="3"/><text x="522.7" y="568.0" font-size="22.5" fill="#ff9955" font-weight="bold" font-style="normal" text-anchor="start" textLength="61.9" lengthAdjust="spacingAndGlyphs">4th Tour</text>
<rect x="592.5" y="505.9" width="69.9" height="23.1" rx="7" fill="#0044aa"/>
<rect x="661.5" y="507.7" width="98.3" height="19.4" rx="6" fill="#0055d4"/>
<rect x="766.0" y="506.7" width="77.0" height="22.3" rx="7" fill="#0066ff"/>
<rect x="597.3" y="482.8" width="72.2" height="25.1" rx="7" fill="#00112b"/>
<rect x="671.6" y="483.8" width="167.7" height="24.7" rx="8" fill="#85a802"/>
<rect x="842.0" y="483.0" width="79.8" height="24.7" rx="7" fill="#003380"/>
<rect x="842.8" y="507.0" width="141.5" height="25.4" rx="8" fill="#85a802"/>
<rect x="594.0" y="528.0" width="221.8" height="23.8" rx="8" fill="#85a802"/>
<rect x="817.5" y="532.4" width="50.7" height="17.2" rx="5" fill="#2a7fff"/>
<rect x="873.3" y="532.4" width="86.7" height="21.1" rx="6" fill="#5599ff"/>
<rect x="595.2" y="551.8" width="87.6" height="22.4" rx="6" fill="#80b3ff"/>
<rect x="688.9" y="552.2" width="71.8" height="22.2" rx="6" fill="#aaccff"/>
<rect x="762.4" y="551.7" width="116.2" height="24.6" rx="8" fill="#85a802"/>
<text x="602.6" y="504.0" font-size="22" fill="#ff0000" font-weight="normal" font-style="normal" text-anchor="start" textLength="60.5" lengthAdjust="spacingAndGlyphs">Moscow</text><text x="668.5" y="504.0" font-size="22" fill="#ff0000" font-weight="normal" font-style="normal" text-anchor="middle">-</text><text x="680.1" y="504.0" font-size="22" fill="#ff0000" font-weight="normal" font-style="normal" text-anchor="start" textLength="43.3" lengthAdjust="spacingAndGlyphs">Tehran</text><text x="731.4" y="504.0" font-size="22" fill="#ff0000" font-weight="normal" font-style="normal" text-anchor="middle">-</text><text x="741.2" y="504.0" font-size="22" fill="#ff0000" font-weight="normal" font-style="normal" text-anchor="start" textLength="36.2" lengthAdjust="spacingAndGlyphs">Cairo</text><text x="786.4" y="504.0" font-size="22" fill="#ff0000" font-weight="normal" font-style="normal" text-anchor="middle">-</text><text x="795.2" y="504.0" font-size="22" fill="#ff0000" font-weight="normal" font-style="normal" text-anchor="start" textLength="34.5" lengthAdjust="spacingAndGlyphs">Paris</text><text x="837.6" y="504.0" font-size="22" fill="#ff0000" font-weight="normal" font-style="normal" text-anchor="middle">-</text><text x="848.0" y="504.0" font-size="22" fill="#ff0000" font-weight="normal" font-style="normal" text-anchor="start" textLength="67.2" lengthAdjust="spacingAndGlyphs">New York</text>
<text x="601.3" y="525.3" font-size="22" fill="#00ff00" font-weight="normal" font-style="normal" text-anchor="start" textLength="50.4" lengthAdjust="spacingAndGlyphs">Mexico</text><text x="659.7" y="525.3" font-size="22" fill="#00ff00" font-weight="normal" font-style="normal" text-anchor="middle">-</text><text x="668.5" y="525.3" font-size="22" fill="#00ff00" font-weight="normal" font-style="normal" text-anchor="start" textLength="84.2" lengthAdjust="spacingAndGlyphs">Los Angeles</text><text x="762.5" y="525.3" font-size="22" fill="#00ff00" font-weight="normal" font-style="normal" text-anchor="middle">-</text><text x="771.2" y="525.3" font-size="22" fill="#00ff00" font-weight="normal" font-style="normal" text-anchor="start" textLength="63.8" lengthAdjust="spacingAndGlyphs">Auckland</text><text x="843.6" y="525.3" font-size="22" fill="#00ff00" font-weight="normal" font-style="normal" text-anchor="middle">-</text><text x="851.7" y="525.3" font-size="22" fill="#00ff00" font-weight="normal" font-style="normal" text-anchor="start" textLength="70.6" lengthAdjust="spacingAndGlyphs">Vancouver</text><text x="934.3" y="525.3" font-size="22" fill="#00ff00" font-weight="normal" font-style="normal" text-anchor="middle">-</text><text x="941.9" y="525.3" font-size="22" fill="#00ff00" font-weight="normal" font-style="normal" text-anchor="start" textLength="31.7" lengthAdjust="spacingAndGlyphs">Lima</text>
<text x="602.0" y="546.6" font-size="22" fill="#ff00ff" font-weight="normal" font-style="normal" text-anchor="start" textLength="53.7" lengthAdjust="spacingAndGlyphs">Mumbai</text><text x="663.7" y="546.6" font-size="22" fill="#ff00ff" font-weight="normal" font-style="normal" text-anchor="middle">-</text><text x="673.0" y="546.6" font-size="22" fill="#ff00ff" font-weight="normal" font-style="normal" text-anchor="start" textLength="80.5" lengthAdjust="spacingAndGlyphs">Hong-Kong</text><text x="761.4" y="546.6" font-size="22" fill="#ff00ff" font-weight="normal" font-style="normal" text-anchor="middle">-</text><text x="771.2" y="546.6" font-size="22" fill="#ff00ff" font-weight="normal" font-style="normal" text-anchor="start" textLength="36.4" lengthAdjust="spacingAndGlyphs">Seoul</text><text x="814.5" y="546.6" font-size="22" fill="#ff00ff" font-weight="normal" font-style="normal" text-anchor="middle">-</text><text x="824.4" y="546.6" font-size="22" fill="#ff00ff" font-weight="normal" font-style="normal" text-anchor="start" textLength="37.5" lengthAdjust="spacingAndGlyphs">Perth</text><text x="870.8" y="546.6" font-size="22" fill="#ff00ff" font-weight="normal" font-style="normal" text-anchor="middle">-</text><text x="879.2" y="546.6" font-size="22" fill="#ff00ff" font-weight="normal" font-style="normal" text-anchor="start" textLength="74.1" lengthAdjust="spacingAndGlyphs">Marrakesh</text>
<text x="602.0" y="568.0" font-size="22" fill="#ff9955" font-weight="normal" font-style="normal" text-anchor="start" textLength="76.3" lengthAdjust="spacingAndGlyphs">Cape Town</text><text x="686.3" y="568.0" font-size="22" fill="#ff9955" font-weight="normal" font-style="normal" text-anchor="middle">-</text><text x="695.6" y="568.0" font-size="22" fill="#ff9955" font-weight="normal" font-style="normal" text-anchor="start" textLength="56.3" lengthAdjust="spacingAndGlyphs">Yaounde</text><text x="759.8" y="568.0" font-size="22" fill="#ff9955" font-weight="normal" font-style="normal" text-anchor="middle">-</text><text x="769.4" y="568.0" font-size="22" fill="#ff9955" font-weight="normal" font-style="normal" text-anchor="start" textLength="22.6" lengthAdjust="spacingAndGlyphs">Rio</text><text x="801.0" y="568.0" font-size="22" fill="#ff9955" font-weight="normal" font-style="normal" text-anchor="middle">-</text><text x="809.8" y="568.0" font-size="22" fill="#ff9955" font-weight="normal" font-style="normal" text-anchor="start" textLength="61.0" lengthAdjust="spacingAndGlyphs">Santiago</text>
</svg></body></html>
